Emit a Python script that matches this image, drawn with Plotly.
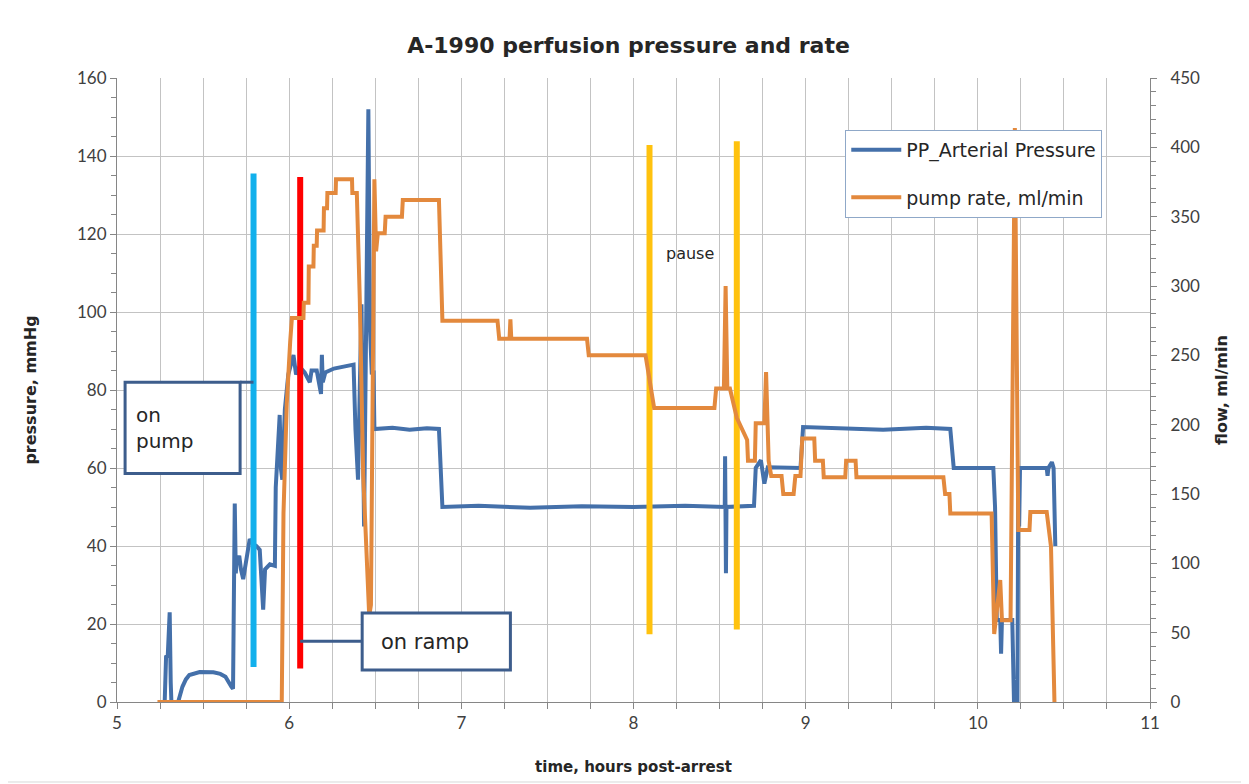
"""
Perfusion pressure and pump rate chart (A-1990)
"""

import plotly.graph_objects as go

# --- data ---
hora_presion = [
    5.277, 5.285, 5.295, 5.306, 5.312, 5.316, 5.355, 5.38, 5.40, 5.42, 5.48, 5.56,
    5.60, 5.63, 5.665, 5.674, 5.684, 5.690, 5.694, 5.71, 5.72, 5.733, 5.752, 5.771,
    5.79, 5.81, 5.829, 5.838, 5.849, 5.86, 5.888, 5.917, 5.922, 5.945, 5.952, 5.96,
    5.975, 5.995, 6.025, 6.04, 6.06, 6.09, 6.12, 6.13, 6.16, 6.185, 6.19, 6.195,
    6.21, 6.26, 6.32, 6.374, 6.385, 6.40, 6.41, 6.42, 6.435, 6.445, 6.46, 6.47,
    6.48, 6.49, 6.495, 6.60, 6.70, 6.80, 6.87, 6.89, 7.10, 7.40, 7.70, 8.00,
    8.30, 8.53, 8.532, 8.537, 8.54, 8.70, 8.71, 8.74, 8.76, 8.78, 8.97, 8.985,
    9.20, 9.45, 9.70, 9.84, 9.86, 10.09, 10.10, 10.11, 10.13, 10.135, 10.14, 10.20,
    10.21, 10.23, 10.235, 10.24, 10.245, 10.40, 10.405, 10.41, 10.43, 10.44, 10.45,
]
presion = [
    0, 11.6, 12, 23, 5, 0, 0, 3.9, 5.8, 6.9, 7.7, 7.6,
    7.2, 6.5, 3.9, 3.4, 50.9, 33, 35.8, 37.5, 34, 31.5, 37.5, 41.8,
    40.5, 40, 39, 33, 23.7, 34, 35.3, 34.9, 55, 73.6, 60, 57,
    75, 84, 89, 84, 86, 84.5, 82, 85, 85, 79, 89, 82,
    84.5, 85.5, 86, 86.5, 70, 57, 80, 102, 45, 90, 152, 95,
    84, 85, 70, 70.3, 69.8, 70.2, 70, 50, 50.3, 49.8, 50.2, 50,
    50.3, 50, 63, 33, 50, 50.3, 60, 62, 56, 60.2, 60, 70.5,
    70.2, 69.8, 70.3, 70, 60, 60, 50, 21, 21, 12.4, 21, 21,
    0, 0, 60, 45, 60, 60, 58, 60, 61.5, 60, 40,
]

hora_bomba = [
    5.235, 5.957, 5.967, 5.986, 6.006, 6.016, 6.083, 6.085, 6.112, 6.114, 6.141, 6.143,
    6.16, 6.162, 6.20, 6.202, 6.22, 6.222, 6.27, 6.272, 6.365, 6.367, 6.393, 6.41,
    6.43, 6.45, 6.465, 6.475, 6.495, 6.505, 6.515, 6.555, 6.56, 6.655, 6.66, 6.87,
    6.89, 7.21, 7.22, 7.28, 7.285, 7.29, 7.73, 7.74, 8.07, 8.12, 8.47, 8.48,
    8.525, 8.535, 8.545, 8.56, 8.60, 8.66, 8.665, 8.705, 8.71, 8.76, 8.77, 8.785,
    8.80, 8.86, 8.87, 8.93, 8.94, 8.97, 8.98, 9.05, 9.055, 9.10, 9.105, 9.23,
    9.235, 9.29, 9.295, 9.80, 9.81, 9.835, 9.84, 10.08, 10.095, 10.13, 10.14, 10.19,
    10.215, 10.235, 10.30, 10.305, 10.40, 10.425, 10.445,
]
caudal = [
    0, 0, 136, 215, 260, 277, 277, 288, 288, 314, 314, 329,
    329, 340, 340, 356, 356, 367, 367, 377, 377, 367, 367, 291,
    164, 113, 62, 70, 377, 325, 338, 338, 350, 350, 362, 362,
    275, 275, 262, 262, 276, 262, 262, 250, 250, 212, 212, 226,
    226, 300, 226, 226, 205, 189, 174, 174, 201, 201, 238, 174,
    163, 163, 150, 150, 163, 163, 190, 190, 174, 174, 162, 162,
    174, 174, 162, 162, 150, 150, 136, 136, 49, 88, 59, 59,
    414, 124, 124, 137, 137, 112, 0,
]

# event markers (hours, pressure span)
eventos_hora = [5.793, 6.064, 8.093, 8.60]
eventos_desde = [9.0, 8.6, 17.4, 18.6]
eventos_hasta = [135.5, 134.6, 142.8, 143.8]
eventos_color = ["#12b0ec", "#ff0000", "#ffc20e", "#ffc20e"]

AZUL = "#4470aa"
NARANJA = "#e3893d"
CAJA = "#3d5d8c"
GRIS = "#c3c3c3"
FUENTE = "Lato, Open Sans, sans-serif"
FUENTE_TXT = "DejaVu Sans, sans-serif"


def crear_grafico_perfusion() -> go.Figure:
    """Builds the pressure / pump rate chart with both y axes."""
    fig = go.Figure()

    fig.add_trace(go.Scatter(
        x=hora_presion, y=presion, mode="lines", name="PP_Arterial Pressure",
        line=dict(color=AZUL, width=4), legendgroup="a", yaxis="y",
    ))
    fig.add_trace(go.Scatter(
        x=hora_bomba, y=caudal, mode="lines", name="pump rate, ml/min",
        line=dict(color=NARANJA, width=4), legendgroup="b", yaxis="y2",
    ))

    # vertical event bars
    for h, y0, y1, c in zip(eventos_hora, eventos_desde, eventos_hasta, eventos_color):
        fig.add_trace(go.Scatter(
            x=[h, h], y=[y0, y1], mode="lines", showlegend=False,
            line=dict(color=c, width=6), hoverinfo="skip", yaxis="y",
        ))

    # callout boxes with leader lines
    fig.add_shape(type="line", x0=5.715, x1=5.793, y0=82, y1=82,
                  line=dict(color=CAJA, width=3), layer="above")
    fig.add_shape(type="rect", x0=5.047, x1=5.715, y0=58.6, y1=82,
                  line=dict(color=CAJA, width=3), fillcolor="white", layer="above")
    fig.add_annotation(x=5.1, y=70.3, text="on<br>pump", showarrow=False, align="left",
                       xanchor="left", font=dict(size=20, color="#262626", family=FUENTE_TXT))

    fig.add_shape(type="line", x0=6.064, x1=6.424, y0=15.6, y1=15.6,
                  line=dict(color=CAJA, width=3), layer="above")
    fig.add_shape(type="rect", x0=6.424, x1=7.285, y0=8.2, y1=22.8,
                  line=dict(color=CAJA, width=3), fillcolor="white", layer="above")
    fig.add_annotation(x=6.52, y=15.5, text="on ramp", showarrow=False, xanchor="left",
                       font=dict(size=21, color="#262626", family=FUENTE_TXT))

    fig.add_annotation(x=8.33, y=115, text="pause", showarrow=False,
                       font=dict(size=16, color="#262626", family=FUENTE_TXT))

    # outer chart border
    fig.add_shape(type="rect", xref="paper", yref="paper",
                  x0=-0.1123, x1=1.0939, y0=-0.1282, y1=1.1234,
                  line=dict(color="#d9d9d9", width=1), layer="below")

    ejes = dict(
        showline=True, linecolor="#868686", linewidth=1, ticks="outside",
        tickcolor="#868686", ticklen=6, zeroline=False,
        tickfont=dict(size=17, color="#404040", family=FUENTE),
    )
    titulo_eje = dict(family=FUENTE_TXT, color="#262626")

    # the page body adds an 8px margin, so the figure is 8px smaller
    fig.update_layout(
        width=1241, height=776,
        margin=dict(l=109, r=99, t=70, b=82),
        paper_bgcolor="white", plot_bgcolor="white",
        font=dict(family=FUENTE, color="#262626"),
        title=dict(text="<b>A-1990 perfusion pressure and rate</b>", x=0.5, xanchor="center",
                   y=1 - 37 / 776, yanchor="middle",
                   font=dict(size=22, family=FUENTE_TXT, color="#262626")),
        xaxis=dict(
            range=[5, 11], dtick=1, tick0=5, showgrid=True, gridcolor=GRIS,
            minor=dict(dtick=0.25, showgrid=True, gridcolor=GRIS, ticks="outside",
                       ticklen=6, tickcolor="#868686"),
            title=dict(text="<b>time, hours post-arrest</b>",
                       font=dict(size=15, **titulo_eje), standoff=29),
            **ejes,
        ),
        yaxis=dict(
            range=[0, 160], dtick=20, showgrid=True, gridcolor=GRIS,
            minor=dict(dtick=5, ticks="outside", ticklen=5, tickcolor="#868686"),
            title=dict(text="<b>pressure, mmHg</b>", font=dict(size=16, **titulo_eje), standoff=36),
            **ejes,
        ),
        yaxis2=dict(
            range=[0, 450], dtick=50, overlaying="y", side="right", showgrid=False,
            minor=dict(dtick=10, ticks="outside", ticklen=5, tickcolor="#868686"),
            ticklabelstandoff=10,
            title=dict(text="<b>flow, ml/min</b>", font=dict(size=16, **titulo_eje), standoff=16),
            **ejes,
        ),
        legend=dict(
            x=0.705, y=0.917, xanchor="left", yanchor="top",
            bgcolor="white", bordercolor="#8fa8c8", borderwidth=1,
            font=dict(size=19, color="#262626", family=FUENTE_TXT),
            tracegroupgap=20, itemwidth=50,
        ),
        showlegend=True,
    )
    return fig


fig = crear_grafico_perfusion()
fig.write_html("out.html")
